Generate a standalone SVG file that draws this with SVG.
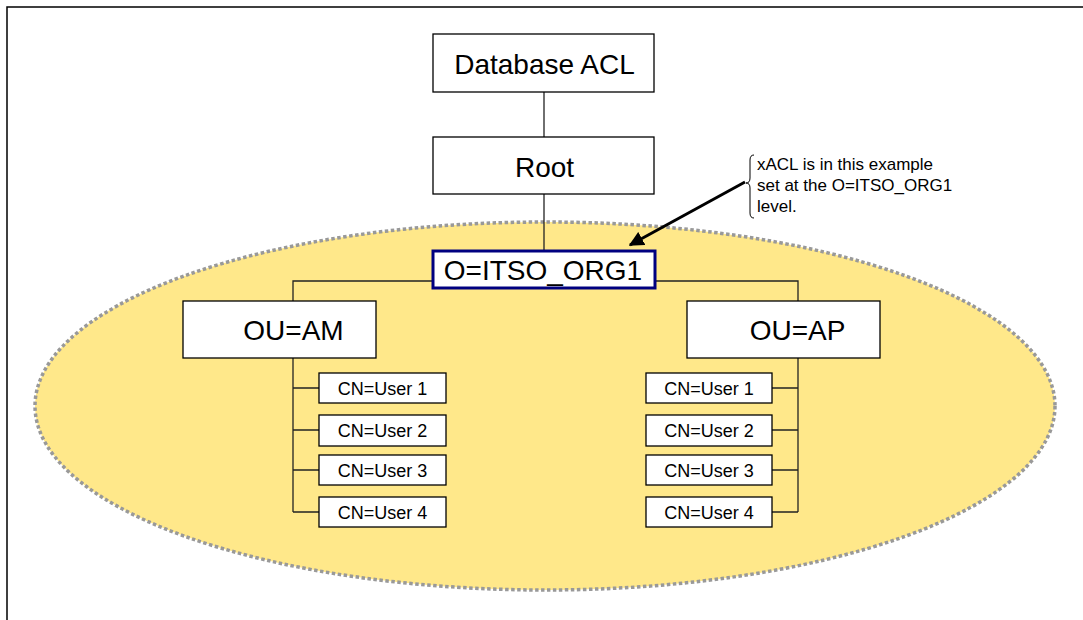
<svg xmlns="http://www.w3.org/2000/svg" width="1083" height="620" viewBox="0 0 1083 620">
<defs>
<style>
.box{fill:#fff;stroke:#000;stroke-width:1.3}
.big{font-family:"Liberation Sans",Arial,sans-serif;font-size:28px;fill:#000;text-anchor:middle}
.small{font-family:"Liberation Sans",Arial,sans-serif;font-size:18px;fill:#000;text-anchor:middle}
.note{font-family:"Liberation Sans",Arial,sans-serif;font-size:17px;fill:#000}
.conn{fill:none;stroke:#222;stroke-width:1.3}
</style>
<marker id="arr" viewBox="0 0 10 10" refX="9" refY="5" markerWidth="5" markerHeight="5" orient="auto" markerUnits="strokeWidth">
<path d="M0,0 L10,5 L0,10 z" fill="#000"/>
</marker>
</defs>
<rect width="1083" height="620" fill="#fff"/>
<path d="M7,620 V7 H1083" fill="none" stroke="#000" stroke-width="1.5"/>
<ellipse id="scope" cx="545" cy="406" rx="510" ry="184" fill="#FFE88A" stroke="#999" stroke-width="3.5" stroke-dasharray="3.5 2.5"/>
<g id="connectors">
<path class="conn" d="M544,92 V137"/>
<path class="conn" d="M544,194 V251"/>
<path class="conn" d="M433,281 H293 V301"/>
<path class="conn" d="M655,281 H798 V301"/>
<path class="conn" d="M293,358 V512"/>
<path class="conn" d="M293,388 H319 M293,430 H319 M293,470 H319 M293,512 H319"/>
<path class="conn" d="M798,358 V512"/>
<path class="conn" d="M798,388 H772 M798,430 H772 M798,470 H772 M798,512 H772"/>
<path d="M745,182 L630,245" stroke="#000" stroke-width="3" fill="none" marker-end="url(#arr)"/>
</g>
<g id="db"><rect class="box" x="433" y="34" width="221" height="58"/><text class="big" x="544.5" y="74">Database ACL</text></g>
<g id="root"><rect class="box" x="433" y="137" width="221" height="57"/><text class="big" x="544.5" y="177">Root</text></g>
<g id="org"><rect x="433" y="251" width="222" height="37" fill="#fff" stroke="#000080" stroke-width="3"/><text class="big" x="543" y="280">O=ITSO_ORG1</text></g>
<g id="ouam"><rect class="box" x="183" y="301" width="193" height="57"/><text class="big" x="293.5" y="340">OU=AM</text></g>
<g id="ouap"><rect class="box" x="687" y="301" width="193" height="57"/><text class="big" x="797.5" y="340">OU=AP</text></g>
<g id="am1"><rect class="box" x="319" y="373" width="127" height="30"/><text class="small" x="382.5" y="395">CN=User 1</text></g>
<g id="am2"><rect class="box" x="319" y="415" width="127" height="31"/><text class="small" x="382.5" y="437">CN=User 2</text></g>
<g id="am3"><rect class="box" x="319" y="455" width="127" height="30"/><text class="small" x="382.5" y="477">CN=User 3</text></g>
<g id="am4"><rect class="box" x="319" y="497" width="127" height="30"/><text class="small" x="382.5" y="519">CN=User 4</text></g>
<g id="ap1"><rect class="box" x="646" y="373" width="126" height="30"/><text class="small" x="709" y="395">CN=User 1</text></g>
<g id="ap2"><rect class="box" x="646" y="415" width="126" height="31"/><text class="small" x="709" y="437">CN=User 2</text></g>
<g id="ap3"><rect class="box" x="646" y="455" width="126" height="30"/><text class="small" x="709" y="477">CN=User 3</text></g>
<g id="ap4"><rect class="box" x="646" y="497" width="126" height="30"/><text class="small" x="709" y="519">CN=User 4</text></g>
<g id="note">
<path d="M754,155 Q750,155 750,160 V178 Q750,183 746,183 Q750,183 750,188 V213 Q750,218 754,218" fill="none" stroke="#000" stroke-width="1"/>
<text class="note" x="757" y="170">xACL is in this example</text>
<text class="note" x="757" y="191">set at the O=ITSO_ORG1</text>
<text class="note" x="757" y="212">level.</text>
</g>
</svg>
